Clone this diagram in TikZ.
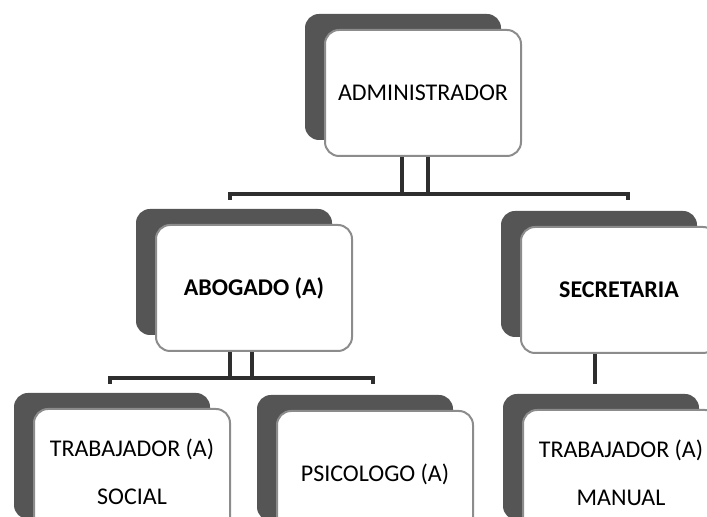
\documentclass[tikz,border=0pt]{standalone}
\usepackage{fontspec}
\setmainfont{Carlito}
\usepackage{tikz}
\usetikzlibrary{shadows}
\definecolor{shadowgray}{HTML}{555555}
\definecolor{edgegray}{HTML}{8C8C8C}
\definecolor{linegray}{HTML}{2E2E2E}

\tikzset{
  post/.style={draw=edgegray, line width=1pt, fill=white, rounded corners=7pt,
    minimum width=98pt, minimum height=63pt, align=center,
    font=\fontsize{12}{14}\selectfont,
    general shadow={fill=shadowgray, shadow xshift=-10pt, shadow yshift=8pt}},
  link/.style={linegray, line width=1.8pt}
}

\begin{document}
\begin{tikzpicture}[x=0.5pt, y=-0.5pt]
    \useasboundingbox (0,0) rectangle (707,517);
    \clip (0,0) rectangle (707,517);
    % cargos
    \node[post] (admin) at (423,93) {ADMINISTRADOR};
    \node[post] (abog) at (254,288) {\textbf{ABOGADO (A)}};
    \node[post] (secre) at (619,290) {\textbf{SECRETARIA}};
    \node[post] (social) at (132,472) {TRABAJADOR (A)\\[10pt]SOCIAL};
    \node[post] (psico) at (375,474) {PSICOLOGO (A)};
    \node[post] (manual) at (621,473) {TRABAJADOR (A)\\[10pt]MANUAL};
    % lineas
    \coordinate (adminL) at (402,194);
    \coordinate (adminR) at (428,194);
    \coordinate (busL) at (230,194);
    \coordinate (busR) at (628,194);
    \draw[link] (admin.south -| adminL) -- (adminL);
    \draw[link] (admin.south -| adminR) -- (adminR);
    \draw[link] ([yshift=-3pt]busL) -- (busL) -- (busR) -- ([yshift=-3pt]busR);
    \coordinate (abogL) at (230,378);
    \coordinate (abogR) at (252,378);
    \coordinate (bus2L) at (110,378);
    \coordinate (bus2R) at (373,378);
    \draw[link] (abog.south -| abogL) -- (abogL);
    \draw[link] (abog.south -| abogR) -- (abogR);
    \draw[link] ([yshift=-3pt]bus2L) -- (bus2L) -- (bus2R) -- ([yshift=-3pt]bus2R);
    \coordinate (secreB) at (595,384);
    \draw[link] (secre.south -| secreB) -- (secreB);
\end{tikzpicture}
\end{document}
